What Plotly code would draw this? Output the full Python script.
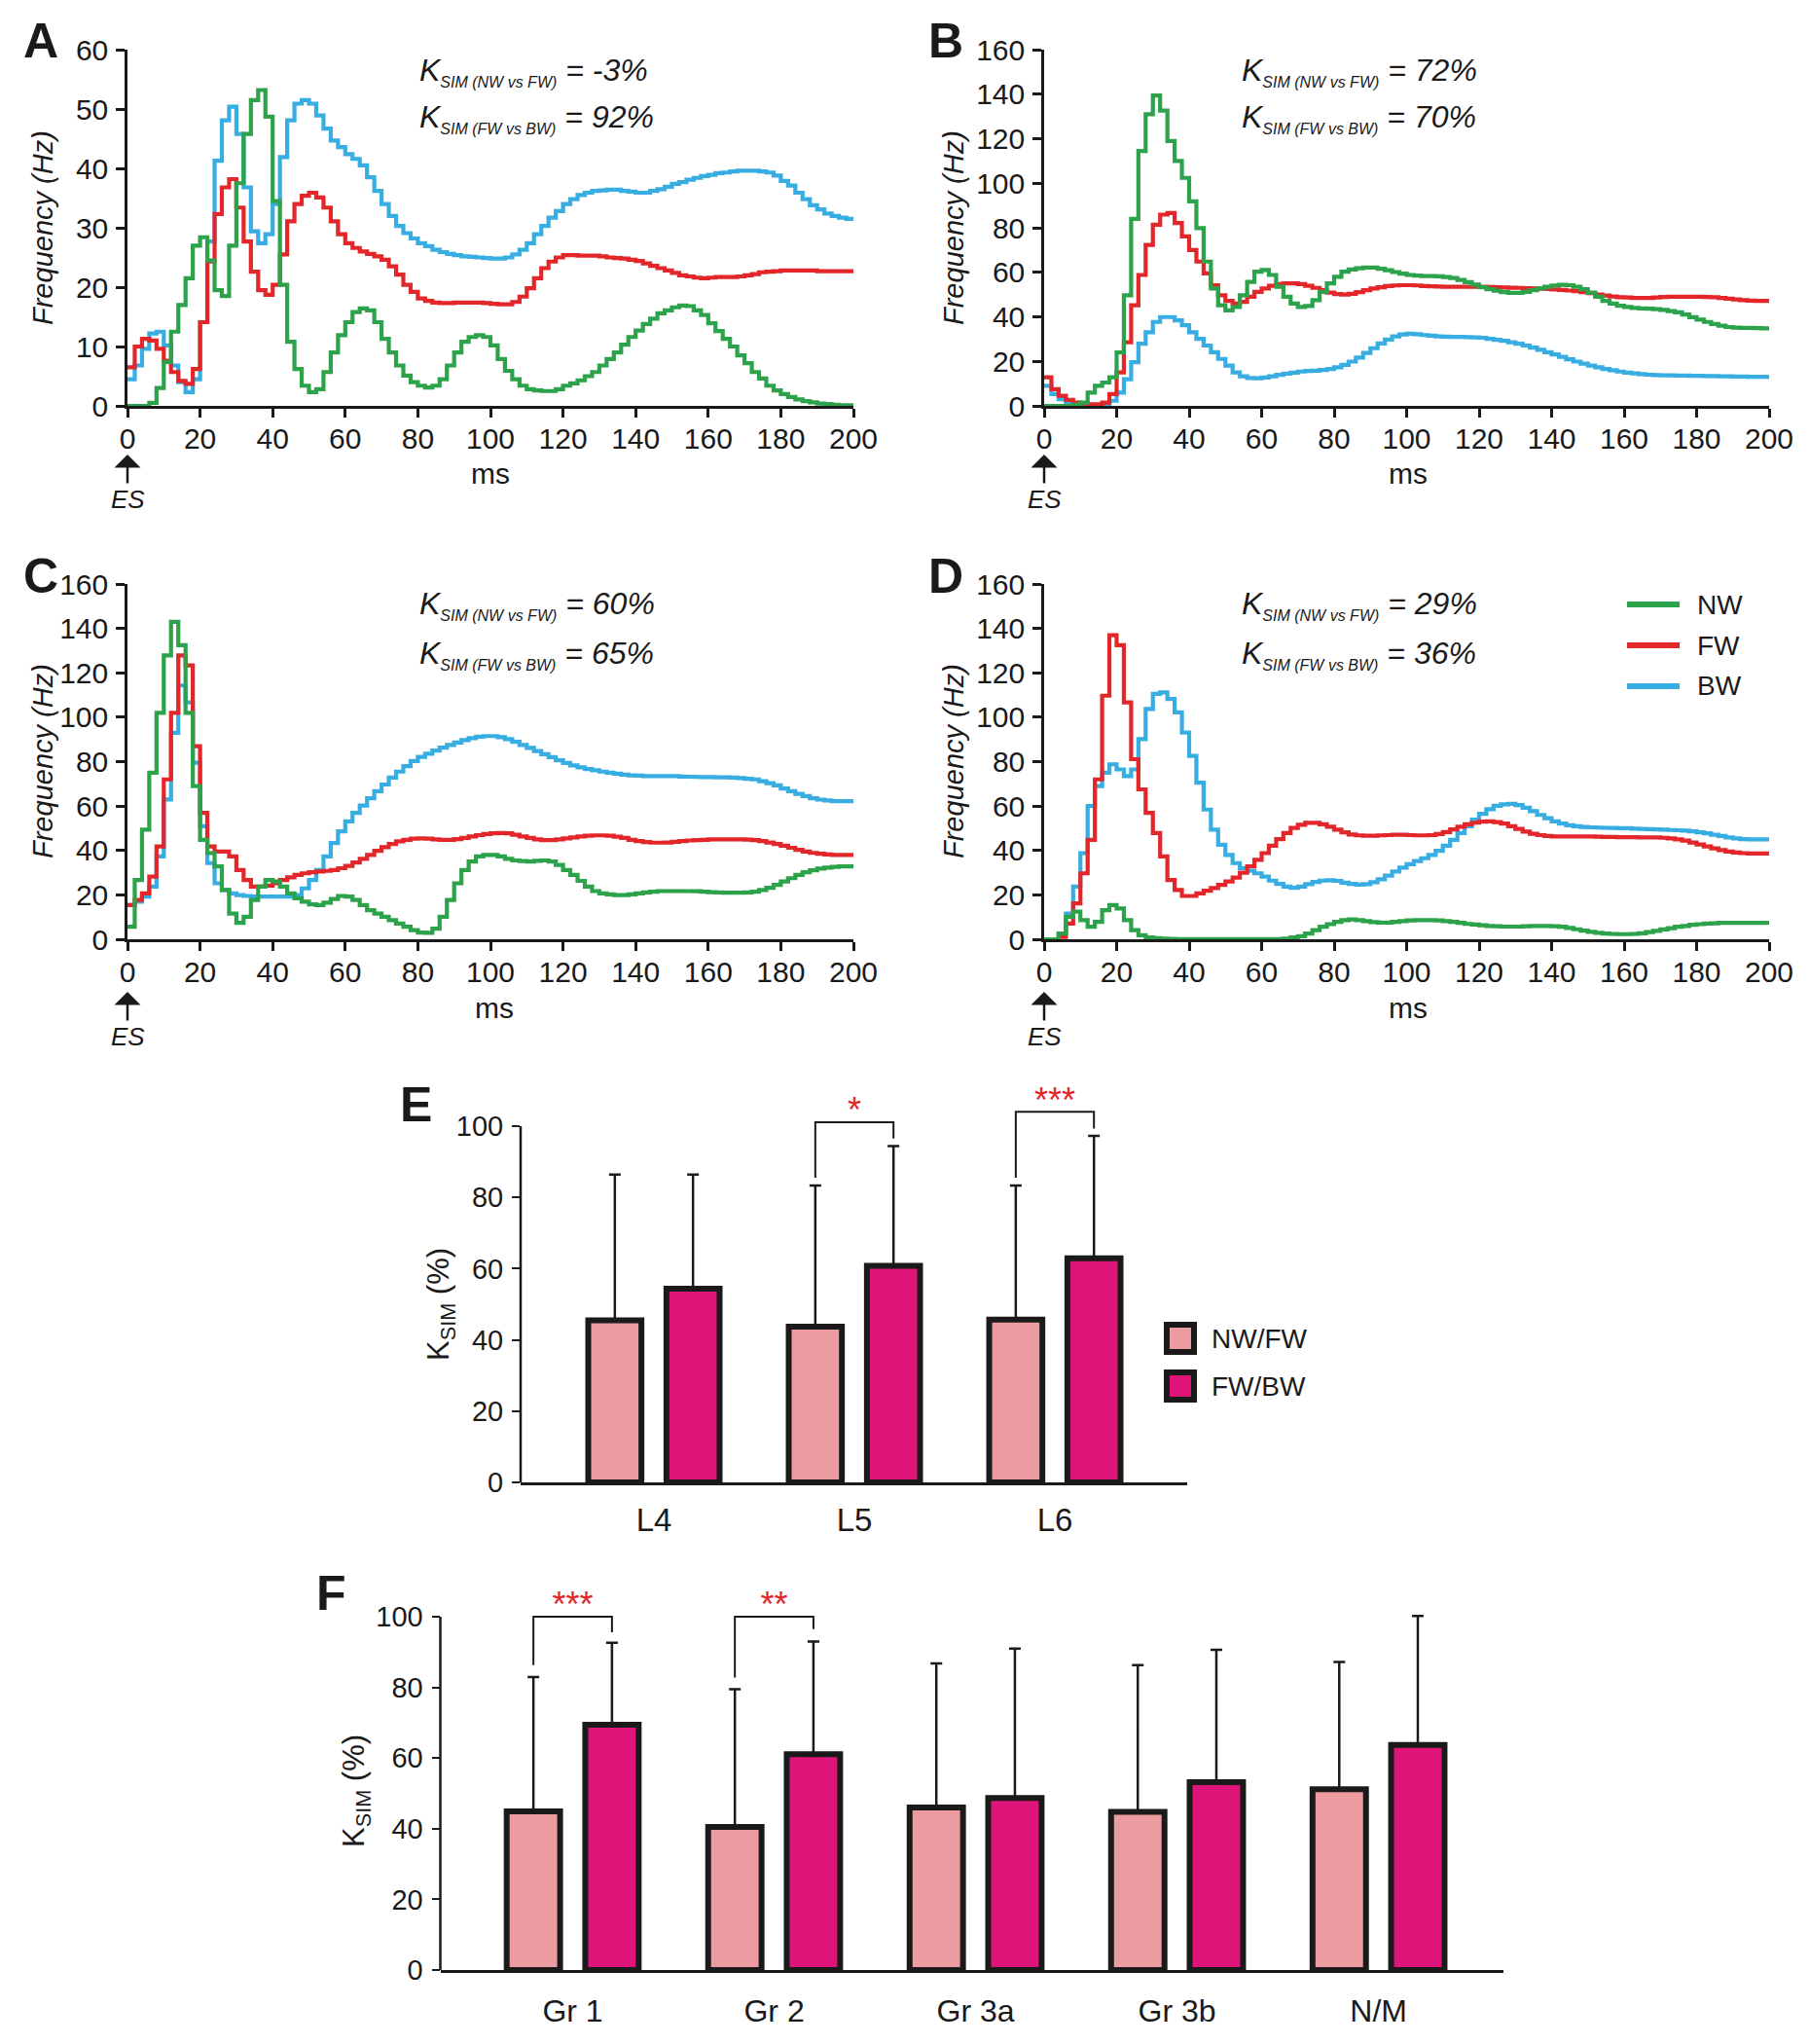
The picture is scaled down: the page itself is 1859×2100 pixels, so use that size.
import plotly.graph_objects as go

# ---------------- data ----------------
T = list(range(0, 201, 2))  # ms (2-ms bins)

A_NW = [0, 0, 0, 0.5, 3, 7.4, 12.5, 17, 21.5, 27, 28.4, 24.5, 19.5, 18.5, 27, 37.5, 45.8, 51.5, 53.2, 48.7,
        34.5, 20.4, 10.8, 6.2, 3.4, 2.3, 2.8, 5.7, 9, 11.9, 14.1, 15.8, 16.4, 16.1, 14.1, 11.3, 9, 6.8, 5.1, 4,
        3.4, 3.1, 3.4, 4.5, 6.8, 9, 10.8, 11.6, 11.9, 11.6, 10.2, 7.9, 5.9, 4.5, 3.4, 2.8, 2.6, 2.5, 2.5, 2.8,
        3.4, 3.8, 4.3, 5, 5.7, 6.8, 7.9, 9, 10.3, 11.6, 12.7, 13.8, 14.7, 15.6, 16.1, 16.6, 16.9, 16.8, 16.1, 15.3,
        13.9, 12.6, 11.3, 10, 8.5, 7.2, 5.7, 4.6, 3.4, 2.6, 2, 1.5, 1.1, 0.8, 0.6, 0.4, 0.3, 0.2, 0.1, 0.1, 0]
A_FW = [6.5, 10, 11.3, 11, 9.6, 7.6, 5.7, 4.2, 3.7, 6.2, 14.1, 24.3, 32.3, 36.8, 38.2, 33.4, 27.7, 22.6, 19.5, 18.7,
        20.4, 25.5, 31.1, 34, 35.4, 35.9, 35.1, 33.4, 31.1, 28.9, 27.4, 26.6, 26, 25.6, 25.2, 24.6, 23.5, 22.1, 20.4, 19.2,
        18.1, 17.7, 17.4, 17.3, 17.3, 17.4, 17.4, 17.4, 17.4, 17.3, 17.2, 17.1, 17.1, 17.5, 18.4, 19.8, 21.5, 23.2, 24.3, 25,
        25.4, 25.4, 25.3, 25.3, 25.3, 25.2, 25, 24.9, 24.8, 24.6, 24.4, 24, 23.6, 23.2, 22.8, 22.4, 22, 21.8, 21.6, 21.5,
        21.6, 21.7, 21.7, 21.7, 21.8, 22, 22.2, 22.5, 22.6, 22.7, 22.8, 22.8, 22.8, 22.8, 22.8, 22.7, 22.7, 22.7, 22.7, 22.7, 22.7]
A_BW = [4.5, 6.8, 9.6, 12.2, 12.5, 10.2, 6.8, 4, 2.3, 4.5, 14.1, 27.7, 41.3, 48.1, 50.4, 45.8, 36.8, 29.4, 27.4, 28.9,
        34, 41.9, 48.1, 50.9, 51.5, 50.9, 48.9, 46.7, 44.7, 43.6, 42.4, 41.6, 40.5, 38.5, 36.2, 34, 32, 30.3, 29.1, 28.2,
        27.4, 26.9, 26.3, 25.9, 25.6, 25.4, 25.2, 25.1, 25, 24.9, 24.8, 24.8, 25, 25.5, 26.3, 27.4, 28.9, 30.3, 31.7, 32.8,
        34, 34.8, 35.5, 35.9, 36.2, 36.3, 36.4, 36.4, 36.2, 36.1, 35.9, 35.9, 36.2, 36.5, 36.9, 37.4, 37.7, 38.1, 38.4, 38.7,
        38.9, 39.2, 39.3, 39.5, 39.6, 39.6, 39.6, 39.5, 39.3, 38.8, 37.9, 37.1, 35.9, 34.8, 33.8, 33.1, 32.4, 32, 31.7, 31.5, 31.4]

B_NW = [0, 0, 0, 0, 0.5, 1.5, 6, 9, 10.5, 12.8, 24, 49.7, 84, 114.5, 131, 139.4, 132.6, 119, 110, 102.4,
        91.9, 79.8, 64.8, 52.7, 45.2, 42.9, 44.4, 49.7, 55.7, 60.3, 61, 58.8, 53.5, 49, 46, 44.4, 44.9, 47.5, 51.2, 55,
        58, 60.3, 61.3, 61.8, 62.1, 62.1, 61.6, 60.9, 60.1, 59.4, 58.8, 58.5, 58.3, 58.3, 58.2, 57.9, 57.4, 56.6, 55.6, 54.5,
        53.3, 52.4, 51.7, 51.1, 50.8, 50.8, 51.2, 52, 52.7, 53.5, 54.1, 54.4, 54.2, 53.5, 52.4, 50.9, 49, 47.2, 46, 45,
        44.4, 44, 43.8, 43.7, 43.4, 43.1, 42.6, 42, 41, 39.8, 38.7, 37.7, 36.8, 36, 35.4, 35.1, 35, 35, 34.9, 34.8, 34.8]
B_FW = [12.8, 7.5, 4.5, 2.7, 1.5, 1, 0.7, 0.7, 1.5, 5.3, 15, 28.6, 45.2, 58.8, 72.3, 81.4, 85.9, 86.6, 82.1, 76.1,
        70, 64.8, 59.5, 54.2, 49.7, 47.2, 46, 46.7, 49, 51.2, 52.7, 53.9, 54.7, 55, 55, 54.7, 53.9, 53, 52, 50.9,
        50.2, 50, 50.3, 51.1, 52, 52.7, 53.3, 53.8, 54.1, 54.2, 54.2, 54.1, 53.8, 53.7, 53.6, 53.5, 53.5, 53.5, 53.5, 53.5,
        53.5, 53.4, 53.3, 53.2, 53.1, 53, 52.9, 52.7, 52.6, 52.5, 52.3, 52.1, 51.8, 51.5, 51.1, 50.6, 50, 49.6, 49.1, 48.8,
        48.7, 48.5, 48.5, 48.5, 48.7, 48.9, 49, 49, 49, 49, 49, 48.9, 48.8, 48.5, 48.1, 47.8, 47.5, 47.3, 47.2, 47.2, 47.2]
B_BW = [9, 5.3, 3, 1.5, 0.8, 0.3, 0.3, 0.3, 0.3, 2.3, 6, 12, 19.6, 27.9, 33.1, 37.7, 39.9, 39.9, 38.4, 36.2,
        33.1, 30.1, 27.1, 24.1, 21.1, 18.1, 15, 13.3, 12.5, 12.4, 12.7, 13.3, 13.9, 14.5, 14.9, 15.4, 15.7, 15.8, 16.1, 16.6,
        17.3, 18.4, 19.9, 21.7, 23.8, 25.9, 28, 29.8, 31.2, 32.1, 32.4, 32.2, 31.8, 31.5, 31.2, 31.1, 31, 31, 30.9, 30.8,
        30.6, 30.1, 29.7, 29.2, 28.6, 27.9, 27.1, 26.2, 25.2, 24.1, 23.1, 22, 20.9, 19.9, 19, 18.1, 17.3, 16.6, 16, 15.4,
        14.9, 14.6, 14.3, 14, 13.8, 13.7, 13.7, 13.6, 13.6, 13.5, 13.5, 13.4, 13.4, 13.3, 13.3, 13.2, 13.2, 13.1, 13.1, 13.1, 13.1]

C_NW = [5.6, 26.7, 49.4, 75, 102, 127.8, 143, 132.4, 102, 69, 44.8, 38.8, 32.8, 22.2, 11.6, 7.4, 10.1, 17.7, 23.7, 26.7,
        26, 23.7, 20.7, 18.4, 16.9, 15.7, 15.4, 16.5, 18.1, 19.5, 19.2, 17.7, 15.4, 13.1, 11.6, 10.1, 8.6, 7.1, 5.6, 4.1,
        3, 2.9, 4.8, 10.1, 17.7, 25.2, 31.2, 35, 37.3, 38, 38, 37.3, 36.2, 35.5, 35.2, 35, 35.3, 35.5, 35, 33.5,
        31.2, 29, 26.3, 23.7, 21.7, 20.7, 20.2, 19.9, 19.9, 20.2, 20.7, 21.1, 21.4, 21.7, 21.7, 21.7, 21.7, 21.7, 21.6, 21.4,
        21.2, 21.1, 21, 21, 21, 21.1, 21.4, 22.2, 23.2, 24.5, 26, 27.5, 29, 30.2, 31.1, 31.8, 32.3, 32.6, 32.8, 32.8, 32.8]
C_FW = [15.4, 17.7, 20.7, 28.2, 41.8, 72, 102, 127.8, 123.3, 87, 56.9, 41.8, 39.5, 39.5, 37.3, 31.2, 26.7, 23.7, 23.7, 24.2,
        25.2, 26.7, 27.9, 29, 29.7, 30.2, 30.5, 30.8, 31.2, 32, 33, 34.6, 36.2, 38, 39.8, 41.5, 42.9, 44.1, 44.8, 45.3,
        45.4, 45.3, 45, 44.8, 44.8, 45.1, 45.6, 46.3, 46.9, 47.4, 47.7, 47.8, 47.7, 47.1, 46.3, 45.6, 45, 44.7, 44.7, 45,
        45.4, 45.9, 46.3, 46.6, 46.8, 46.8, 46.6, 46.2, 45.6, 44.8, 44.2, 43.8, 43.5, 43.5, 43.6, 43.9, 44.2, 44.5, 44.7, 44.8,
        45, 45, 45, 45, 45, 44.9, 44.7, 44.2, 43.6, 42.9, 42.1, 41.2, 40.3, 39.5, 38.9, 38.5, 38.2, 38, 38, 38, 38]
C_BW = [15.4, 16.9, 19.2, 23.7, 37.3, 63, 93, 114.3, 106.7, 79.5, 50.9, 34.3, 25.2, 22.2, 20.7, 19.9, 19.5, 19.2, 19.2, 19.2,
        19.2, 19.2, 19.2, 19.9, 22.9, 26.7, 31.2, 37.3, 43.3, 48.6, 53.1, 56.9, 60.2, 63.5, 66.7, 69.7, 72.8, 75.5, 78, 80.3,
        82.1, 83.6, 85, 86.3, 87.5, 88.6, 89.7, 90.6, 91.2, 91.5, 91.5, 91, 90.1, 88.9, 87.5, 86.2, 84.8, 83.3, 82, 80.6,
        79.4, 78.3, 77.4, 76.7, 76.1, 75.5, 75, 74.6, 74.1, 73.8, 73.7, 73.5, 73.5, 73.5, 73.5, 73.5, 73.3, 73.2, 73.1, 73,
        73, 72.9, 72.9, 72.8, 72.6, 72.3, 72, 71.2, 70.3, 69.3, 67.9, 66.7, 65.5, 64.5, 63.5, 62.9, 62.5, 62.2, 62.2, 62.2, 62.2]

D_NW = [0, 0, 2.6, 10.1, 12.4, 8.6, 5.6, 7.8, 13.1, 15.4, 13.9, 8.6, 4.1, 1.8, 0.8, 0.5, 0.3, 0.2, 0.1, 0.1,
        0.1, 0.1, 0.1, 0.1, 0.1, 0.1, 0.1, 0.1, 0.1, 0.1, 0.1, 0.1, 0.1, 0.3, 0.8, 1.4, 2.6, 4.1, 5.6, 6.8,
        7.8, 8.6, 8.9, 8.6, 8.2, 7.7, 7.5, 7.5, 7.8, 8.2, 8.5, 8.6, 8.6, 8.6, 8.5, 8.2, 7.8, 7.4, 6.9, 6.6,
        6.3, 6, 5.9, 5.7, 5.7, 5.7, 5.9, 6, 6, 6, 5.9, 5.6, 5.1, 4.5, 3.9, 3.3, 2.9, 2.6, 2.4, 2.3,
        2.3, 2.4, 2.7, 3.2, 3.8, 4.4, 5, 5.6, 6, 6.5, 6.8, 7.1, 7.2, 7.4, 7.4, 7.4, 7.4, 7.4, 7.4, 7.4, 7.4]
D_FW = [0, 0, 1, 7.1, 16.2, 29.7, 44.8, 72, 109.7, 136.9, 132.4, 106.7, 81.1, 67.5, 56.9, 47.8, 37.3, 26.7, 22.2, 19.5,
        19.5, 20.7, 21.9, 23.1, 24.5, 26, 27.8, 30, 32.8, 35.8, 38.8, 42.1, 45.1, 47.8, 50.1, 51.6, 52.4, 52.4, 51.8, 50.7,
        49.4, 48.2, 47.2, 46.8, 46.6, 46.6, 46.8, 46.9, 47.1, 47.1, 46.9, 46.8, 46.8, 46.9, 47.4, 48.3, 49.5, 50.7, 51.8, 52.5,
        53, 53.1, 52.8, 52.1, 50.9, 49.7, 48.5, 47.5, 46.9, 46.5, 46.3, 46.3, 46.3, 46.3, 46.3, 46.3, 46.2, 46.1, 46.1, 46,
        46, 46, 45.9, 45.9, 45.9, 45.7, 45.4, 45, 44.4, 43.6, 42.7, 41.8, 40.9, 40.2, 39.5, 39.1, 38.8, 38.6, 38.6, 38.6, 38.6]
D_BW = [0, 0, 2.6, 11.6, 23.7, 38.8, 60, 69, 75, 78.8, 76.5, 73.5, 76.5, 90.1, 103.7, 110.5, 111.2, 108.2, 102.2, 93.1,
        82.6, 70.5, 58.4, 49.4, 42.6, 38, 34.3, 32, 30.8, 29.7, 28.2, 26.4, 24.9, 23.7, 23.2, 23.7, 24.8, 25.8, 26.4, 26.6,
        26.3, 25.5, 24.9, 24.6, 24.8, 25.7, 27, 28.7, 30.5, 32.3, 33.8, 35.2, 36.5, 38, 39.8, 42.1, 44.8, 47.8, 50.9, 53.9,
        56.5, 58.6, 60.1, 60.8, 61, 60.4, 59.2, 57.7, 56, 54.5, 53.1, 52.1, 51.3, 50.9, 50.6, 50.4, 50.3, 50.2, 50.1, 50,
        50, 49.8, 49.7, 49.6, 49.5, 49.4, 49.2, 49.1, 48.9, 48.6, 48.2, 47.7, 47.1, 46.5, 45.9, 45.4, 45.1, 45, 45, 45, 45]

KSIM_NW_FW = ["-3%", "72%", "60%", "29%"]
KSIM_FW_BW = ["92%", "70%", "65%", "36%"]

E_CATS = ["L4", "L5", "L6"]
E_NWFW = [45.5, 43.7, 45.7]
E_NWFW_SD = [40.9, 39.6, 37.6]
E_FWBW = [54.4, 60.8, 62.9]
E_FWBW_SD = [32.0, 33.6, 34.4]
E_SIG_IDX = [1, 2]
E_SIG_TEXT = ["*", "***"]
E_SIG_Y = [103.6, 106.2]
E_BR_LEFT = [85.5, 85.5]
E_BR_TOP = [101.1, 104.0]
E_BR_RIGHT = [96.5, 99.3]

F_CATS = ["Gr 1", "Gr 2", "Gr 3a", "Gr 3b", "N/M"]
F_NWFW = [44.9, 40.5, 46.0, 44.8, 51.2]
F_NWFW_SD = [38.0, 39.0, 40.8, 41.5, 36.0]
F_FWBW = [69.4, 61.1, 48.7, 53.2, 63.7]
F_FWBW_SD = [23.2, 31.9, 42.3, 37.4, 36.5]
F_SIG_IDX = [0, 1]
F_SIG_TEXT = ["***", "**"]
F_SIG_Y = [102.6, 102.6]
F_BR_LEFT = [86.3, 82.8]
F_BR_TOP = [100.0, 100.0]
F_BR_RIGHT = [95.6, 96.5]

for s in [A_NW, A_FW, A_BW, B_NW, B_FW, B_BW, C_NW, C_FW, C_BW, D_NW, D_FW, D_BW]:
    assert len(s) == len(T), len(s)

# ---------------- style ----------------
W, H = 1859, 2100
FONT = "Liberation Sans, Arial, Helvetica, sans-serif"
K = "#1a1a1a"
GREEN, RED, BLUE = "#2ca24b", "#e3262a", "#37ade2"
PINK, MAGENTA = "#ec9ca0", "#de1479"
BARGAP, BARGROUPGAP = 0.22, 0.32
OFFSET = (1 - BARGAP) / 4


def px(X):
    return X / W


def py(Y):
    return 1 - Y / H


fig = go.Figure()

panels = [("x", "y", A_NW, A_FW, A_BW),
          ("x2", "y2", B_NW, B_FW, B_BW),
          ("x3", "y3", C_NW, C_FW, C_BW),
          ("x4", "y4", D_NW, D_FW, D_BW)]
for xa, ya, nw, fw, bw in panels:
    for name, ser, col in [("BW", bw, BLUE), ("FW", fw, RED), ("NW", nw, GREEN)]:
        fig.add_trace(go.Scatter(x=T, y=ser, mode="lines", name=name, line=dict(color=col, width=4.2, shape="hv"),
                                 xaxis=xa, yaxis=ya, showlegend=False))


def add_bars(xa, ya, cats, v1, e1, v2, e2, sig_idx, sig_text, sig_y, brl, brt, brr):
    idx = list(range(len(cats)))
    for vals, errs, col, name in [(v1, e1, PINK, "NW/FW"), (v2, e2, MAGENTA, "FW/BW")]:
        fig.add_trace(go.Bar(x=idx, y=vals, name=name, xaxis=xa, yaxis=ya, showlegend=False, cliponaxis=False,
                             marker=dict(color=col, line=dict(color=K, width=6)),
                             error_y=dict(type="data", symmetric=False, array=errs, arrayminus=[0] * len(errs),
                                          color=K, thickness=2.5, width=6)))
    for i, l, t, r in zip(sig_idx, brl, brt, brr):
        fig.add_trace(go.Scatter(x=[i - OFFSET, i - OFFSET, i + OFFSET, i + OFFSET], y=[l, t, t, r], mode="lines",
                                 line=dict(color=K, width=2), xaxis=xa, yaxis=ya, showlegend=False,
                                 hoverinfo="skip"))
    fig.add_trace(go.Scatter(x=sig_idx, y=sig_y, text=sig_text, mode="text", cliponaxis=False,
                             textfont=dict(color="#e3262a", size=36, family=FONT), xaxis=xa, yaxis=ya,
                             showlegend=False))


add_bars("x5", "y5", E_CATS, E_NWFW, E_NWFW_SD, E_FWBW, E_FWBW_SD, E_SIG_IDX, E_SIG_TEXT, E_SIG_Y,
         E_BR_LEFT, E_BR_TOP, E_BR_RIGHT)
add_bars("x6", "y6", F_CATS, F_NWFW, F_NWFW_SD, F_FWBW, F_FWBW_SD, F_SIG_IDX, F_SIG_TEXT, F_SIG_Y,
         F_BR_LEFT, F_BR_TOP, F_BR_RIGHT)

# ---------------- axes ----------------
axline = dict(showline=True, linewidth=2.5, linecolor=K, showgrid=False, zeroline=False, automargin=False,
              ticks="outside", ticklen=9, tickwidth=2.5, tickcolor=K)
xcommon = dict(axline, range=[0, 200], tickvals=list(range(0, 201, 20)), tickfont=dict(size=30, color=K),
               ticklabelstandoff=-4)
ycommon = dict(axline, tickfont=dict(size=30, color=K), ticklabelstandoff=2)

XL = [px(131), px(877)]
XR = [px(1073), px(1818)]
YT = [py(417), py(51)]
YB = [py(965), py(600)]

layout = dict(
    width=W, height=H, margin=dict(l=0, r=0, t=0, b=0, pad=0, autoexpand=False),
    paper_bgcolor="white", plot_bgcolor="white",
    font=dict(family=FONT, color=K), showlegend=False, barmode="group", bargap=BARGAP, bargroupgap=BARGROUPGAP,
    xaxis=dict(xcommon, domain=XL, anchor="y"),
    yaxis=dict(ycommon, domain=YT, anchor="x", range=[0, 60], tickvals=list(range(0, 61, 10))),
    xaxis2=dict(xcommon, domain=XR, anchor="y2"),
    yaxis2=dict(ycommon, domain=YT, anchor="x2", range=[0, 160], tickvals=list(range(0, 161, 20))),
    xaxis3=dict(xcommon, domain=XL, anchor="y3"),
    yaxis3=dict(ycommon, domain=YB, anchor="x3", range=[0, 160], tickvals=list(range(0, 161, 20))),
    xaxis4=dict(xcommon, domain=XR, anchor="y4"),
    yaxis4=dict(ycommon, domain=YB, anchor="x4", range=[0, 160], tickvals=list(range(0, 161, 20))),
    xaxis5=dict(domain=[px(535), px(1220)], anchor="y5", range=[-0.665, 2.66], showline=True, linewidth=2.5,
                linecolor=K, showgrid=False, zeroline=False, automargin=False, ticks="",
                tickvals=list(range(len(E_CATS))),
                ticktext=E_CATS, tickfont=dict(size=33, color=K), ticklabelstandoff=8),
    yaxis5=dict(domain=[py(1523), py(1523 - 1.12 * 366)], anchor="x5", range=[0, 112], showline=False,
                showgrid=False, zeroline=False, automargin=False, ticks="outside", ticklen=8, tickwidth=2,
                tickcolor=K, tickvals=list(range(0, 101, 20)), tickfont=dict(size=29, color=K),
                ticklabelstandoff=3),
    xaxis6=dict(domain=[px(452.5), px(1545)], anchor="y6", range=[-0.657, 4.62], showline=True, linewidth=2.5,
                linecolor=K, showgrid=False, zeroline=False, automargin=False, ticks="",
                tickvals=list(range(len(F_CATS))),
                ticktext=F_CATS, tickfont=dict(size=32, color=K), ticklabelstandoff=12),
    yaxis6=dict(domain=[py(2024), py(2024 - 1.10 * 363)], anchor="x6", range=[0, 110], showline=False,
                showgrid=False, zeroline=False, automargin=False, ticks="outside", ticklen=8, tickwidth=2,
                tickcolor=K, tickvals=list(range(0, 101, 20)), tickfont=dict(size=29, color=K),
                ticklabelstandoff=3),
)
fig.update_layout(**layout)

shapes = []
# y-axis lines of E and F, only 0..100
for ya, xleft in [("y5", px(535)), ("y6", px(452.5))]:
    shapes.append(dict(type="line", xref="paper", yref=ya, x0=xleft, x1=xleft, y0=0, y1=100,
                       line=dict(color=K, width=2.5)))
# legend of D
for yy, col in [(621, GREEN), (663, RED), (705, BLUE)]:
    shapes.append(dict(type="line", xref="paper", yref="paper", x0=px(1672), x1=px(1726), y0=py(yy), y1=py(yy),
                       line=dict(color=col, width=6)))
# legend of E
for yy, col in [(1375, PINK), (1424, MAGENTA)]:
    shapes.append(dict(type="rect", xref="paper", yref="paper", x0=px(1199), x1=px(1227), y0=py(yy - 14),
                       y1=py(yy + 14), fillcolor=col, line=dict(color=K, width=6)))
fig.update_layout(shapes=shapes)

ann = []


def A(x, y, text, size, **kw):
    d = dict(x=px(x), y=py(y), xref="paper", yref="paper", text=text, showarrow=False,
             font=dict(size=size, color=K, family=FONT), xanchor="center", yanchor="middle")
    d.update(kw)
    ann.append(d)


# panel letters
for lab, x, y in [("A", 42, 42), ("B", 972, 42), ("C", 42, 592), ("D", 972, 592), ("E", 427, 1135), ("F", 340, 1637)]:
    A(x, y, "<b>%s</b>" % lab, 50)

# K_SIM texts
for (x, y1, y2), v1, v2 in zip([(429, 73, 122), (1274, 73, 122), (429, 622, 672), (1274, 622, 672)],
                               KSIM_NW_FW, KSIM_FW_BW):
    sub1 = "<sub><span style='font-size:16px'><i>SIM (NW vs FW)</i></span></sub>"
    sub2 = "<sub><span style='font-size:16px'><i>SIM (FW vs BW)</i></span></sub>"
    A(x, y1, "<i>K</i>" + sub1 + "<i> = " + v1 + "</i>", 32, xanchor="left")
    A(x, y2, "<i>K</i>" + sub2 + "<i> = " + v2 + "</i>", 32, xanchor="left")

# axis titles
for x, y in [(44, 234), (980, 234), (44, 782), (980, 782)]:
    A(x, y, "<i>Frequency (Hz)</i>", 29, textangle=-90)
for x, y in [(504, 486), (1447, 486), (508, 1035), (1447, 1035)]:
    A(x, y, "ms", 30)
A(453, 1340, "K<sub>SIM</sub> (%)", 31, textangle=-90)
A(366, 1840, "K<sub>SIM</sub> (%)", 31, textangle=-90)

# legends text
for lab, y in [("NW", 621), ("FW", 663), ("BW", 705)]:
    A(1742, y, lab, 28, xanchor="left")
for lab, y in [("NW/FW", 1375), ("FW/BW", 1424)]:
    A(1243, y, lab, 28, xanchor="left")

# ES arrows
for xa, ytip in [("x", 467), ("x2", 467), ("x3", 1019), ("x4", 1019)]:
    ann.append(dict(x=0, xref=xa, y=py(ytip), yref="paper", text="<i>ES</i>", showarrow=True, ax=0, ay=46,
                    arrowhead=1, arrowsize=1.8, arrowwidth=2.5, arrowcolor=K,
                    font=dict(size=26, color=K, family=FONT)))

fig.update_layout(annotations=ann)
fig.write_html("out.html")
